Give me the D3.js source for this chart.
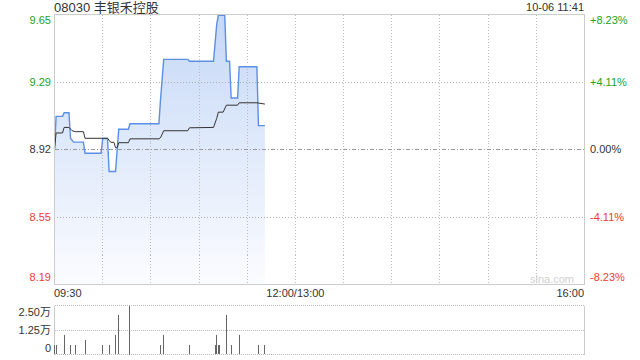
<!DOCTYPE html>
<html>
<head>
<meta charset="utf-8">
<script src="https://cdn.jsdelivr.net/npm/d3@7"></script>
<style>
  body { margin: 0; background: #fff; }
  svg text { font-family: "Liberation Sans", Arial, "Noto Sans CJK SC", sans-serif; }
</style>
</head>
<body>
<script>
// quote info
var title = "08030 丰银禾控股";
var stamp = "10-06 11:41";
var prevClose = 8.92;
var pctRange = 0.0823;

// axis labels
var priceLabels = ["9.65", "9.29", "8.92", "8.55", "8.19"];
var pctLabels = ["+8.23%", "+4.11%", "0.00%", "-4.11%", "-8.23%"];
var timeLabels = ["09:30", "12:00/13:00", "16:00"];
var volLabels = ["2.50万", "1.25万", "0"];

// price line vertices
var priceTimes = ["09:30", "09:31", "09:35", "09:36", "09:39", "09:40", "09:42", "09:48", "09:49",
    "09:59", "10:00", "10:03", "10:04", "10:08", "10:10", "10:16", "10:17", "10:35", "10:36", "10:38",
    "10:53", "10:54", "11:09", "11:10", "11:11", "11:12", "11:16", "11:17", "11:19", "11:20", "11:24",
    "11:25", "11:36", "11:37", "11:41"];
var priceVals = [8.92, 9.10, 9.10, 9.12, 9.12, 8.98, 8.96, 8.96, 8.90,
    8.90, 8.98, 8.98, 8.80, 8.80, 9.03, 9.03, 9.06, 9.06, 9.19, 9.41,
    9.41, 9.40, 9.40, 9.50, 9.60, 9.65, 9.65, 9.40, 9.40, 9.20, 9.20,
    9.37, 9.37, 9.05, 9.05];

// average price line vertices
var avgTimes = ["09:30", "09:31", "09:35", "09:36", "09:39", "09:41", "09:43", "09:48", "09:49",
    "10:03", "10:05", "10:07", "10:08", "10:09", "10:10", "10:16", "10:17", "10:35", "10:36", "10:38",
    "10:53", "10:54", "11:09", "11:11", "11:12", "11:15", "11:17", "11:24", "11:25", "11:36", "11:41"];
var avgVals = [8.92, 9.01, 9.01, 9.04, 9.04, 9.022, 9.017, 9.017, 8.981,
    8.981, 8.959, 8.959, 8.93, 8.93, 8.957, 8.957, 8.978, 8.978, 8.984, 9.022,
    9.022, 9.038, 9.04, 9.089, 9.123, 9.123, 9.161, 9.161, 9.174, 9.174, 9.167];

// volume bars
var volTimes = ["09:30", "09:31", "09:36", "09:40", "09:43", "09:49", "10:00", "10:04", "10:08",
    "10:10", "10:17", "10:36", "10:38", "10:54", "11:10", "11:11", "11:12", "11:13", "11:17",
    "11:20", "11:25", "11:37", "11:41"];
var volVals = [4700, 4700, 9800, 4700, 4700, 7300, 4700, 4700, 9800,
    19900, 25000, 4700, 9800, 4700, 4700, 9800, 4700, 4700, 19900,
    4700, 9800, 4700, 4700];

// trading minute index, lunch break removed
function idx(t) {
    var p = t.split(":");
    var m = (+p[0]) * 60 + (+p[1]);
    if (m <= 720) return m - 570;
    return 150 + (m - 780);
}

function crisp(v) { return Math.floor(v) + 0.5; }

var svg = d3.select("body").append("svg")
    .attr("width", 640)
    .attr("height", 360);

var pLeft = 54.5, pRight = 584.5;
var pTop = 14.5, pBottom = 284.5;
var vTop = 305.5, vBottom = 354.5;

var x = d3.scaleLinear().domain([0, 330]).range([pLeft, pRight]);
var y = d3.scaleLinear()
    .domain([prevClose * (1 - pctRange), prevClose * (1 + pctRange)])
    .range([pBottom, pTop]);
var yv = d3.scaleLinear().domain([0, 25000]).range([vBottom, vTop]);

var green = "#22a322", red = "#f03c32", grey = "#333";

var defs = svg.append("defs");

// gradient for the area
var grad = defs.append("linearGradient")
    .attr("id", "fill")
    .attr("gradientUnits", "userSpaceOnUse")
    .attr("x1", 0).attr("y1", pTop).attr("x2", 0).attr("y2", pBottom);
grad.append("stop").attr("offset", 0).attr("stop-color", "#c5d8f6");
grad.append("stop").attr("offset", 1).attr("stop-color", "#fbfcff");

// dotted pattern for horizontal grid rows
defs.append("pattern")
    .attr("id", "hdots")
    .attr("patternUnits", "userSpaceOnUse")
    .attr("width", 3).attr("height", 1)
    .append("rect")
    .attr("width", 1).attr("height", 1)
    .attr("fill", "#b0b0b0");

// header
svg.append("text").attr("x", 54).attr("y", 12)
    .attr("font-size", 13).attr("fill", grey)
    .text(title);
svg.append("text").attr("x", 584).attr("y", 11)
    .attr("font-size", 11).attr("fill", grey).attr("text-anchor", "end")
    .text(stamp);

// area + lines
var priceData = priceTimes.map(function(t, i) { return {m: idx(t), v: priceVals[i]}; });
var avgData = avgTimes.map(function(t, i) { return {m: idx(t), v: avgVals[i]}; });

svg.append("path")
    .datum(priceData)
    .attr("fill", "url(#fill)")
    .attr("d", d3.area()
        .x(function(d) { return x(d.m); })
        .y0(pBottom)
        .y1(function(d) { return y(d.v); }));

// grid
var g = svg.append("g").attr("shape-rendering", "crispEdges");
d3.range(30, 330, 30).forEach(function(m) {
    var xx = crisp(x(m));
    g.append("line")
        .attr("x1", xx).attr("x2", xx).attr("y1", pTop).attr("y2", pBottom)
        .attr("stroke", "#bbb").attr("stroke-dasharray", "1,2");
});

// horizontal levels: top, +half, prev close, -half, bottom
var levels = [0, 1, 2, 3, 4].map(function(i) {
    return prevClose * (1 + pctRange) - i * prevClose * pctRange / 2;
});
[1, 3].forEach(function(i) {
    g.append("rect")
        .attr("x", Math.floor(pLeft) + 1)
        .attr("y", Math.floor(y(levels[i])))
        .attr("width", Math.floor(pRight - pLeft) - 1)
        .attr("height", 1)
        .attr("fill", "url(#hdots)");
});
g.append("path")
    .attr("d", "M" + pLeft + "," + crisp(y(prevClose)) + "H" + pRight)
    .attr("fill", "none")
    .attr("stroke", "#999")
    .attr("stroke-dasharray", "4,2,1,2");

svg.append("path")
    .datum(priceData)
    .attr("fill", "none")
    .attr("stroke", "#5b8fe6")
    .attr("stroke-width", 1.4)
    .attr("d", d3.line()
        .x(function(d) { return x(d.m); })
        .y(function(d) { return y(d.v); }));

svg.append("path")
    .datum(avgData)
    .attr("fill", "none")
    .attr("stroke", "#333")
    .attr("stroke-width", 1)
    .attr("d", d3.line()
        .x(function(d) { return x(d.m); })
        .y(function(d) { return y(d.v); }));

// border of price panel
svg.append("rect")
    .attr("x", pLeft).attr("y", pTop)
    .attr("width", pRight - pLeft).attr("height", pBottom - pTop)
    .attr("fill", "none").attr("stroke", "#ccc");

// watermark
svg.append("text").attr("x", 574).attr("y", 283)
    .attr("font-size", 11).attr("fill", "#d0d0d0").attr("text-anchor", "end")
    .text("sina.com");

// price / pct labels
var offs = [6, 0, 0, 0, -7];
levels.forEach(function(v, i) {
    var c = i < 2 ? green : (i > 2 ? red : grey);
    svg.append("text")
        .attr("x", 51).attr("y", y(v) + offs[i])
        .attr("dy", "0.35em").attr("text-anchor", "end")
        .attr("font-size", 11).attr("fill", c)
        .text(priceLabels[i]);
    svg.append("text")
        .attr("x", 590).attr("y", y(v) + offs[i])
        .attr("dy", "0.35em")
        .attr("font-size", 11).attr("fill", c)
        .text(pctLabels[i]);
});

// time labels
svg.append("text").attr("x", 54).attr("y", 297).attr("font-size", 11).attr("fill", grey)
    .text(timeLabels[0]);
svg.append("text").attr("x", x(150)).attr("y", 297).attr("font-size", 11).attr("fill", grey)
    .attr("text-anchor", "middle").text(timeLabels[1]);
svg.append("text").attr("x", 584).attr("y", 297).attr("font-size", 11).attr("fill", grey)
    .attr("text-anchor", "end").text(timeLabels[2]);

// volume panel
var vg = svg.append("g").attr("shape-rendering", "crispEdges");
[25000, 12500, 0].forEach(function(v, i) {
    var yy = crisp(yv(v));
    vg.append("path")
        .attr("d", "M" + pLeft + "," + yy + "H" + pRight)
        .attr("fill", "none")
        .attr("stroke", "#bbb").attr("stroke-dasharray", "1,1");
    svg.append("text")
        .attr("x", 51).attr("y", yv(v) + [6.5, 0, -6][i])
        .attr("dy", "0.35em").attr("text-anchor", "end")
        .attr("font-size", 11).attr("fill", grey)
        .text(volLabels[i]);
});
vg.append("line").attr("x1", pLeft).attr("x2", pLeft).attr("y1", vTop).attr("y2", vBottom)
    .attr("stroke", "#ccc");
vg.append("line").attr("x1", pRight).attr("x2", pRight).attr("y1", vTop).attr("y2", vBottom)
    .attr("stroke", "#ccc");

vg.selectAll("rect")
    .data(volTimes)
    .enter().append("rect")
    .attr("x", function(t) { return Math.round(x(idx(t)) - 0.5); })
    .attr("y", function(t, i) { return Math.round(yv(volVals[i])); })
    .attr("width", 1)
    .attr("height", function(t, i) { return Math.round(vBottom - yv(volVals[i])); })
    .attr("fill", "#666");
</script>
</body>
</html>
